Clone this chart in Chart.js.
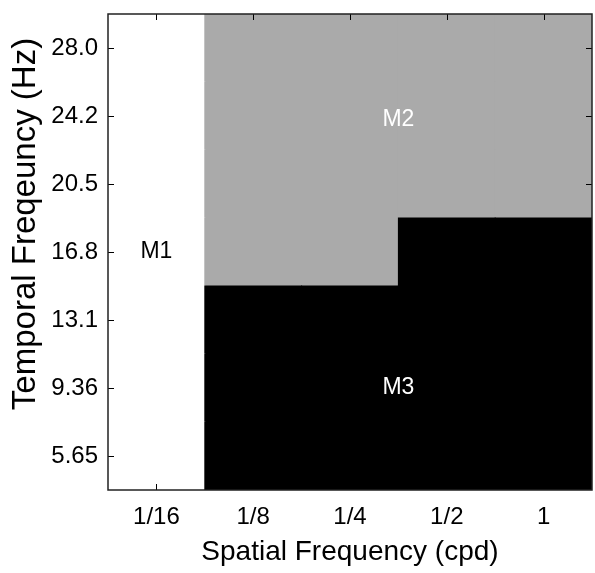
<!DOCTYPE html>
<html>
<head>
<meta charset="utf-8">
<script src="https://cdn.jsdelivr.net/npm/chart.js@4"></script>
<style>
  html, body { margin: 0; padding: 0; background: #fff; }
  #wrap { width: 595px; height: 573px; }
</style>
</head>
<body>
<div id="wrap"><canvas id="chartRegioes"></canvas></div>
<script>
// Mapa de regiões M1/M2/M3 por frequência espacial x temporal

const spatialLabels = ['1/16', '1/8', '1/4', '1/2', '1'];
const temporalLabels = ['5.65', '9.36', '13.1', '16.8', '20.5', '24.2', '28.0'];

// região de cada célula, uma lista por coluna (de baixo para cima)
const col_1_16 = ['M1', 'M1', 'M1', 'M1', 'M1', 'M1', 'M1'];
const col_1_8  = ['M3', 'M3', 'M3', 'M2', 'M2', 'M2', 'M2'];
const col_1_4  = ['M3', 'M3', 'M3', 'M2', 'M2', 'M2', 'M2'];
const col_1_2  = ['M3', 'M3', 'M3', 'M3', 'M2', 'M2', 'M2'];
const col_1    = ['M3', 'M3', 'M3', 'M3', 'M2', 'M2', 'M2'];
const columns = [col_1_16, col_1_8, col_1_4, col_1_2, col_1];

const regionNames = ['M1', 'M2', 'M3'];
const regionColors = { M1: '#ffffff', M2: '#aaaaaa', M3: '#000000' };
const regionTextColors = { M1: '#000000', M2: '#ffffff', M3: '#ffffff' };
// posição dos rótulos (índice da coluna, índice da linha)
const regionLabelX = [0, 2.5, 2.5];
const regionLabelY = [3, 4.95, 1];

const yTitle = 'Temporal Freqeuncy (Hz)';
const FONT = "'Liberation Sans', Arial, Helvetica, sans-serif";

// um dataset por linha (frequência temporal), empilhados
const datasets = temporalLabels.map((lbl, row) => ({
    label: lbl,
    data: spatialLabels.map(() => 1),
    backgroundColor: columns.map(col => regionColors[col[row]]),
    borderWidth: 0,
    inflateAmount: 0.5,
    barPercentage: 1,
    categoryPercentage: 1
}));

// moldura + ticks para dentro nos 4 lados, rótulos e título do eixo y
const frameTicks = {
    id: 'frameTicks',
    afterDatasetsDraw(chart) {
        const { ctx, chartArea: a, scales } = chart;
        const len = 6;
        ctx.save();
        ctx.strokeStyle = '#000';
        ctx.lineWidth = 1;
        ctx.beginPath();
        scales.x.ticks.forEach((t, i) => {
            const px = Math.round(scales.x.getPixelForTick(i)) + 0.5;
            ctx.moveTo(px, a.bottom); ctx.lineTo(px, a.bottom - len);
            ctx.moveTo(px, a.top); ctx.lineTo(px, a.top + len);
        });
        scales.y.ticks.forEach((t, i) => {
            const py = Math.round(scales.y.getPixelForTick(i)) + 0.5;
            ctx.moveTo(a.left, py); ctx.lineTo(a.left + len, py);
            ctx.moveTo(a.right, py); ctx.lineTo(a.right - len, py);
        });
        ctx.stroke();
        ctx.lineWidth = 1.5;
        ctx.strokeStyle = '#222';
        ctx.strokeRect(a.left, a.top, a.right - a.left, a.bottom - a.top);

        // rótulos das regiões
        ctx.font = '23px ' + FONT;
        ctx.textAlign = 'center';
        ctx.textBaseline = 'middle';
        regionNames.forEach((name, i) => {
            ctx.fillStyle = regionTextColors[name];
            ctx.fillText(name,
                scales.x.getPixelForValue(regionLabelX[i]),
                scales.y.getPixelForValue(regionLabelY[i] + 0.5));
        });

        // título do eixo y (um pouco acima do centro, como no original)
        ctx.translate(35, (a.top + a.bottom) / 2 - 28);
        ctx.rotate(-Math.PI / 2);
        ctx.font = '33px ' + FONT;
        ctx.fillStyle = '#000';
        ctx.textBaseline = 'alphabetic';
        ctx.fillText(yTitle, 0, 0);
        ctx.restore();
    }
};

new Chart(document.getElementById('chartRegioes'), {
    type: 'bar',
    data: { labels: spatialLabels, datasets: datasets },
    options: {
        responsive: true,
        maintainAspectRatio: false,
        animation: false,
        layout: { padding: { top: 14, right: 3, left: 0, bottom: 0 } },
        plugins: {
            legend: { display: false },
            tooltip: { enabled: false }
        },
        scales: {
            x: {
                stacked: true,
                grid: { display: false, drawTicks: false },
                border: { display: false },
                ticks: { color: '#000', font: { family: FONT, size: 24 }, padding: 13, maxRotation: 0 },
                title: {
                    display: true, text: 'Spatial Frequency (cpd)', color: '#000',
                    font: { family: FONT, size: 28 }, padding: { top: 0, bottom: 4 }
                },
                afterFit: s => { s.height = 83; s.paddingLeft = 0; s.paddingRight = 0; }
            },
            y: {
                stacked: true,
                min: 0,
                max: 7,
                grid: { display: false, drawTicks: false },
                border: { display: false },
                afterBuildTicks: s => {
                    s.ticks = temporalLabels.map((l, i) => ({ value: i + 0.5 }));
                },
                ticks: {
                    color: '#000', font: { family: FONT, size: 24 }, padding: 10,
                    callback: (v) => temporalLabels[Math.round(v - 0.5)]
                },
                afterFit: s => { s.width = 108; s.paddingTop = 0; s.paddingBottom = 0; }
            }
        }
    },
    plugins: [frameTicks]
});
</script>
</body>
</html>
